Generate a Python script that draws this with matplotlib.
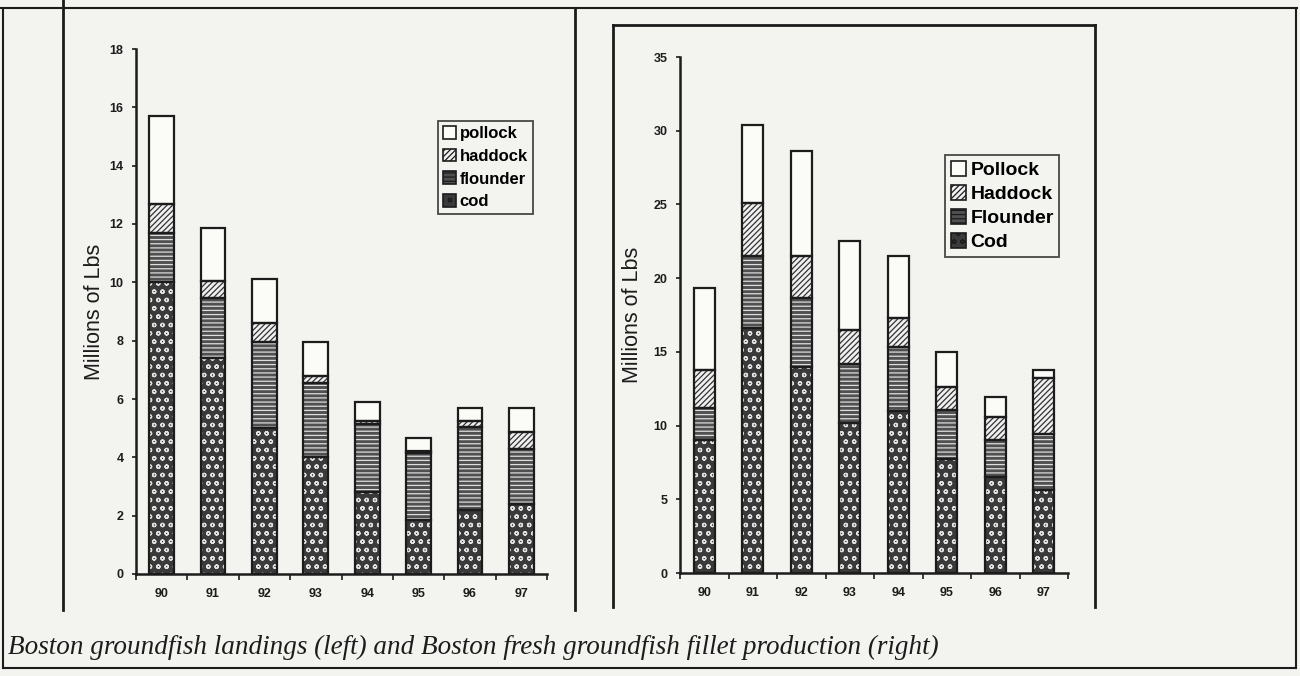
import numpy as np
import matplotlib
matplotlib.use("Agg")
import matplotlib.pyplot as plt
from matplotlib.patches import Patch
from matplotlib.lines import Line2D

plt.rcParams['font.family'] = ['Liberation Sans', 'DejaVu Sans']
plt.rcParams['hatch.linewidth'] = 0.9

years = ['90', '91', '92', '93', '94', '95', '96', '97']

# Left: Boston groundfish landings (millions of lbs)
left_cod = [10.0, 7.4, 5.0, 4.0, 2.8, 1.85, 2.2, 2.4]
left_flounder = [1.7, 2.05, 2.95, 2.55, 2.35, 2.3, 2.85, 1.9]
left_haddock = [1.0, 0.6, 0.65, 0.23, 0.08, 0.05, 0.2, 0.56]
left_pollock = [3.0, 1.8, 1.5, 1.17, 0.67, 0.45, 0.43, 0.82]

# Right: Boston fresh groundfish fillet production (millions of lbs)
right_cod = [9.0, 16.6, 14.0, 10.2, 11.0, 7.7, 6.5, 5.6]
right_flounder = [2.2, 4.9, 4.65, 4.0, 4.3, 3.35, 2.5, 3.8]
right_haddock = [2.6, 3.6, 2.85, 2.3, 2.0, 1.55, 1.6, 3.8]
right_pollock = [5.5, 5.3, 7.1, 6.0, 4.2, 2.4, 1.35, 0.6]

left_labels = ['pollock', 'haddock', 'flounder', 'cod']
right_labels = ['Pollock', 'Haddock', 'Flounder', 'Cod']
caption = ("Boston groundfish landings (left) and Boston fresh groundfish "
           "fillet production (right)")

BG = '#f3f3ef'
INK = '#1c1c1c'
styles = {
    'cod': dict(fc='#3a3a3a', hatch='oo', hc='#e2e2e2'),
    'flounder': dict(fc='#505050', hatch='----', hc='#dddddd'),
    'haddock': dict(fc='#f0f0f0', hatch='//////', hc='#333333'),
    'pollock': dict(fc='#fbfbf8', hatch=None, hc=INK),
}

W, H = 1300, 676
fig = plt.figure(figsize=(W / 100, H / 100), dpi=100)
fig.patch.set_facecolor(BG)


def fx(px):
    return px / W


def fy(py):
    return 1 - py / H


def draw(ax, series, width, ymax, ystep):
    ax.set_facecolor('none')
    x = np.arange(len(years))
    bottom = np.zeros(len(years))
    for name, vals in series:
        st = styles[name]
        vals = np.asarray(vals, dtype=float)
        ax.bar(x, vals, width, bottom=bottom, facecolor=st['fc'],
               edgecolor=st['hc'], hatch=st['hatch'], linewidth=0, zorder=2)
        ax.bar(x, vals, width, bottom=bottom, fill=False,
               edgecolor=INK, linewidth=1.6, zorder=3)
        bottom += vals
    ax.set_xlim(-0.5, len(years) - 0.5)
    ax.set_ylim(0, ymax)
    ticks = np.arange(0, ymax + 0.01, ystep)
    ax.set_yticks(ticks)
    ax.set_yticklabels([f'{int(v)}' for v in ticks],
                       fontsize=9, fontweight='bold', color=INK)
    ax.set_xticks(x)
    ax.set_xticklabels(years, fontsize=9, fontweight='bold', color=INK)
    ax.set_xticks(np.arange(-0.5, len(years)), minor=True)
    ax.tick_params(axis='x', which='major', length=0, pad=10)
    ax.tick_params(axis='x', which='minor', length=4, width=1.2,
                   direction='out', color=INK)
    ax.tick_params(axis='y', length=3, width=1.2, direction='out',
                   color=INK, pad=6)
    for s in ['top', 'right']:
        ax.spines[s].set_visible(False)
    for s in ['left', 'bottom']:
        ax.spines[s].set_linewidth(1.8)
        ax.spines[s].set_color(INK)


def legend_handles(labels):
    names = ['pollock', 'haddock', 'flounder', 'cod']
    hs = []
    for n, lab in zip(names, labels):
        st = styles[n]
        hs.append(Patch(facecolor=st['fc'], edgecolor=INK, hatch=st['hatch'],
                        linewidth=1.2, label=lab))
    return hs


def style_legend(leg):
    fr = leg.get_frame()
    fr.set_edgecolor(INK)
    fr.set_linewidth(1.3)
    fr.set_facecolor(BG)


# Left chart
axL = fig.add_axes([fx(136), fy(574), fx(547 - 136), (574 - 49) / H])
draw(axL, [('cod', left_cod), ('flounder', left_flounder),
           ('haddock', left_haddock), ('pollock', left_pollock)],
     0.48, 18, 2)
legL = fig.legend(handles=legend_handles(left_labels), loc='upper left',
                  bbox_to_anchor=(fx(438), fy(121)), frameon=True,
                  fancybox=False, borderpad=0.3, labelspacing=0.45,
                  handlelength=0.8, handleheight=0.8, handletextpad=0.2,
                  borderaxespad=0,
                  prop=dict(family='Liberation Sans', size=12, weight='bold'))
style_legend(legL)
fig.text(fx(94), fy(312), 'Millions of Lbs', rotation=90, ha='center',
         va='center', fontsize=15.5, color=INK)

# Right chart
axR = fig.add_axes([fx(680), fy(573), fx(1068 - 680), (573 - 57) / H])
draw(axR, [('cod', right_cod), ('flounder', right_flounder),
           ('haddock', right_haddock), ('pollock', right_pollock)],
     0.44, 35, 5)
legR = fig.legend(handles=legend_handles(right_labels), loc='upper left',
                  bbox_to_anchor=(fx(945), fy(155)), frameon=True,
                  fancybox=False, borderpad=0.3, labelspacing=0.3,
                  handlelength=0.8, handleheight=0.8, handletextpad=0.2,
                  borderaxespad=0,
                  prop=dict(family='Liberation Sans', size=14, weight='bold'))
style_legend(legR)
fig.text(fx(633), fy(315), 'Millions of Lbs', rotation=90, ha='center',
         va='center', fontsize=15.5, color=INK)


# Frames of the scanned page
def hline(y, x0, x1, lw=1.8):
    fig.add_artist(Line2D([fx(x0), fx(x1)], [fy(y), fy(y)], color=INK, lw=lw))


def vline(x, y0, y1, lw=1.8):
    fig.add_artist(Line2D([fx(x), fx(x)], [fy(y0), fy(y1)], color=INK, lw=lw))


hline(8, 0, 1297, 1.5)
vline(63, 0, 610, 2.0)
vline(575, 8, 610, 2.0)
vline(613, 25, 607, 2.0)
hline(25, 613, 1095, 2.0)
vline(1095, 25, 607, 2.0)
vline(3, 8, 668, 1.5)
vline(1296, 8, 668, 1.5)
hline(668, 3, 1296, 1.5)

fig.text(fx(8), fy(647), caption, ha='left', va='center',
         fontsize=19.5, style='italic', family='Liberation Serif', color=INK)

fig.savefig('out.png', dpi=100, facecolor=BG)
